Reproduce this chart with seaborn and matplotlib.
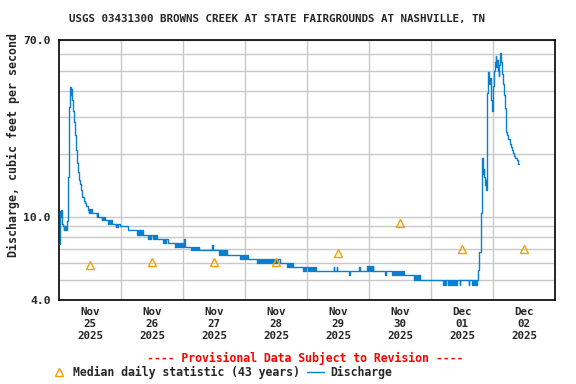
import pandas as pd
import seaborn as sns
import matplotlib.pyplot as plt
from matplotlib.lines import Line2D
from matplotlib.ticker import FixedLocator, NullFormatter

title = "USGS 03431300 BROWNS CREEK AT STATE FAIRGROUNDS AT NASHVILLE, TN"
day_labels = ["Nov\n25\n2025", "Nov\n26\n2025", "Nov\n27\n2025", "Nov\n28\n2025",
              "Nov\n29\n2025", "Nov\n30\n2025", "Dec\n01\n2025", "Dec\n02\n2025"]

# median daily statistic, one per day (hours since Nov 25 00:00)
median_hours = [12, 36, 60, 84, 108, 132, 156, 180]
median_cfs = [5.9, 6.1, 6.1, 6.1, 6.7, 9.3, 7.0, 7.0]

# discharge (hours since Nov 25 00:00, cfs)
flow_hours = [
    # Nov 25
    0.0, 0.2, 0.4, 0.6, 0.8, 1.0, 1.35, 1.55, 1.9, 2.1, 2.3, 2.5, 2.7, 3.1,
    3.4, 3.6, 3.9, 4.25, 4.45, 4.6, 4.75, 4.9, 5.15, 5.5, 5.9, 6.3, 6.7, 7.1,
    7.5, 7.85, 8.25, 8.5, 8.9, 9.5, 10.1, 10.45, 11.2, 11.5, 11.8, 12.1, 12.4,
    12.6, 14.6, 14.9, 15.2, 16.5, 16.8, 17.1, 17.4, 17.8, 19.1, 19.4, 19.7,
    20.0, 20.6, 21.9, 22.2, 22.5, 22.8, 23.6,
    # Nov 26
    26.8, 30.0, 30.4, 30.8, 31.2, 31.6, 32.0, 32.4, 32.9, 34.6, 35.0, 35.4,
    35.8, 36.2, 36.6, 37.0, 37.4, 37.8, 38.2, 40.4, 40.8, 41.2, 41.6, 42.0,
    42.6, 44.9, 45.3, 45.7, 46.1, 46.5, 46.9, 47.3, 47.7, 48.1, 48.5, 48.7,
    49.0,
    # Nov 27
    51.0, 51.3, 51.7, 52.1, 52.5, 52.9, 53.3, 53.7, 54.1, 54.6, 59.3, 59.5,
    62.0, 62.4, 62.8, 63.2, 63.6, 64.0, 64.4, 64.8, 65.2, 65.5, 70.0, 70.4,
    70.8, 71.2, 71.6, 72.0, 72.4, 72.8, 73.3,
    # Nov 28
    76.5, 76.9, 77.3, 77.7, 78.1, 78.5, 78.9, 79.3, 79.7, 80.1, 80.5, 80.9,
    81.3, 81.7, 82.1, 82.5, 82.9, 83.3, 83.7, 84.1, 84.5, 84.9, 85.5, 88.1,
    88.5, 88.9, 89.3, 89.7, 90.0, 90.4, 94.6, 95.0, 95.4, 95.8, 96.2, 96.6,
    97.0, 97.4, 97.8, 98.2, 98.6, 99.0, 99.5,
    # Nov 29
    106.4, 106.6, 107.5, 107.7, 112.4, 112.6, 116.2, 116.4, 119.1, 119.5,
    119.9, 120.3, 120.7, 121.1, 121.4, 121.7,
    # Nov 30
    126.2, 126.4, 128.8, 129.2, 129.6, 130.0, 130.4, 130.8, 131.2, 131.6,
    132.0, 132.4, 132.8, 133.2, 133.7, 137.5, 137.9, 138.3, 138.7, 139.1,
    139.5, 139.9, 140.4, 148.8, 149.2, 149.6, 150.0, 150.4, 150.8, 151.2,
    151.6, 152.0, 152.4, 152.8, 153.2, 153.6, 153.9, 155.2, 155.4, 158.7,
    158.9, 159.7, 160.1, 160.5, 160.9, 161.3, 161.7,
    # Dec 01
    162.3, 162.7, 163.2, 163.6, 163.8, 164.1, 164.4, 164.6, 164.9, 165.1,
    165.4, 165.5, 165.8, 166.2, 166.4, 166.8, 167.2, 167.4, 167.7, 168.0,
    168.3, 168.7, 169.0, 169.2, 169.6, 170.0, 170.3, 170.5, 170.8, 171.1,
    171.3, 171.7, 172.1, 172.5, 172.9, 173.2, 173.6, 174.0, 174.4, 174.8,
    175.2, 175.6, 176.1, 176.6, 177.1, 177.8, 178.0,
]
flow_cfs = [
    # Nov 25
    7.4, 8.0, 10.6, 10.0, 10.8, 9.6, 9.2, 9.0, 8.6, 9.0, 8.6, 9.0, 8.6, 9.5,
    13.4, 15.5, 33.6, 36.8, 41.5, 38.0, 41.0, 37.0, 36.0, 32.0, 28.4, 24.5,
    20.8, 18.0, 16.4, 15.0, 14.3, 13.4, 12.4, 11.9, 11.6, 11.2, 10.8, 10.4,
    10.9, 10.4, 10.9, 10.4, 10.0, 10.4, 10.0, 9.6, 10.0, 9.6, 10.0, 9.6, 9.2,
    9.6, 9.2, 9.6, 9.2, 8.9, 9.2, 8.9, 9.2, 9.0,
    # Nov 26
    8.6, 8.2, 8.6, 8.2, 8.6, 8.2, 8.6, 8.2, 8.2, 7.8, 8.2, 7.8, 8.2, 7.8, 8.2,
    7.8, 8.2, 7.8, 7.8, 7.5, 7.8, 7.5, 7.8, 7.5, 7.5, 7.2, 7.5, 7.2, 7.5, 7.2,
    7.5, 7.2, 7.5, 7.2, 7.8, 7.2, 7.2,
    # Nov 27
    6.9, 7.2, 6.9, 7.2, 6.9, 7.2, 6.9, 7.2, 6.9, 6.9, 7.3, 6.9, 6.55, 6.9,
    6.55, 6.9, 6.55, 6.9, 6.55, 6.9, 6.55, 6.6, 6.3, 6.6, 6.3, 6.6, 6.3, 6.6,
    6.3, 6.6, 6.3,
    # Nov 28
    6.0, 6.3, 6.0, 6.3, 6.0, 6.3, 6.0, 6.3, 6.0, 6.3, 6.0, 6.3, 6.0, 6.3, 6.0,
    6.3, 6.0, 6.3, 6.0, 6.3, 6.0, 6.3, 6.0, 5.75, 6.0, 5.75, 6.0, 5.75, 6.0,
    5.75, 5.5, 5.75, 5.5, 5.75, 5.5, 5.75, 5.5, 5.75, 5.5, 5.75, 5.5, 5.75,
    5.5,
    # Nov 29
    5.75, 5.5, 5.75, 5.5, 5.26, 5.5, 5.75, 5.5, 5.8, 5.5, 5.8, 5.5, 5.8, 5.5,
    5.8, 5.5,
    # Nov 30
    5.26, 5.5, 5.26, 5.5, 5.26, 5.5, 5.26, 5.5, 5.26, 5.5, 5.26, 5.5, 5.26,
    5.5, 5.26, 5.0, 5.26, 5.0, 5.26, 5.0, 5.26, 5.0, 5.0, 4.7, 5.0, 4.7, 5.0,
    4.7, 5.0, 4.7, 5.0, 4.7, 5.0, 4.7, 5.0, 4.7, 5.0, 4.7, 5.0, 4.7, 5.0, 4.7,
    5.0, 4.7, 5.0, 4.7, 5.0,
    # Dec 01
    5.56, 6.8, 10.4, 15.8, 19.0, 16.0, 17.0, 15.5, 14.2, 15.0, 13.4, 23.3,
    39.0, 49.0, 43.0, 46.0, 42.0, 36.0, 32.0, 42.0, 50.0, 55.0, 59.0, 52.0,
    56.0, 50.0, 47.0, 53.0, 60.5, 55.0, 48.0, 43.0, 38.0, 33.0, 29.0, 25.5,
    24.5, 23.5, 22.4, 21.5, 20.8, 20.1, 19.6, 19.2, 18.7, 17.9, 17.9,
]

blue = "#0a7fcf"
orange = "#f5a000"
grid_grey = "#c8c8c8"

sns.set_style("white")
plt.rcParams["font.family"] = ["DejaVu Sans Mono"]
plt.rcParams["font.weight"] = "bold"

fig = plt.figure(figsize=(5.76, 3.84), dpi=100)
ax = fig.add_axes([59 / 576, 1 - 300 / 384, 496 / 576, 260 / 384])

flow = pd.DataFrame({"hours": flow_hours, "cfs": flow_cfs})
med = pd.DataFrame({"hours": median_hours, "cfs": median_cfs})

sns.lineplot(data=flow, x="hours", y="cfs", ax=ax, estimator=None, sort=False,
             drawstyle="steps-post", color=blue, linewidth=1.0, zorder=3)
sns.lineplot(data=med, x="hours", y="cfs", ax=ax, estimator=None, sort=False,
             marker="^", linestyle="", markersize=6.3, markerfacecolor="none",
             markeredgecolor=orange, markeredgewidth=1.0, zorder=4)

ax.set_yscale("log")
ax.set_ylim(4, 70)
ax.set_xlim(0, 192)
ax.yaxis.set_major_locator(FixedLocator([4, 10, 70]))
ax.yaxis.set_minor_locator(FixedLocator([5, 6, 7, 8, 9, 20, 30, 40, 50, 60]))
ax.yaxis.set_minor_formatter(NullFormatter())
ax.set_yticklabels(["4.0", "10.0", "70.0"])
ax.set_xticks([12 + 24 * i for i in range(8)])
ax.set_xticklabels(day_labels, linespacing=1.25)
ax.set_xticks([24 * i for i in range(1, 8)], minor=True)

ax.grid(False)
ax.grid(True, which="both", axis="y", color=grid_grey, linewidth=1.0, zorder=0)
ax.grid(True, which="minor", axis="x", color=grid_grey, linewidth=1.0, zorder=0)
ax.set_axisbelow(True)

ax.tick_params(axis="both", which="both", length=0)
ax.tick_params(axis="y", labelsize=8.2, pad=6)
ax.tick_params(axis="x", labelsize=7.8, pad=5)
for s in ax.spines.values():
    s.set_color("black")
    s.set_linewidth(1.2)

ax.set_xlabel("")
ax.set_ylabel("")
fig.text(13 / 576, 1 - 145 / 384, "Discharge, cubic feet per second", rotation=90,
         ha="center", va="center", fontsize=8.4)
fig.text(277 / 576, 1 - 19 / 384, title, ha="center", va="center", fontsize=7.8)
fig.text(305 / 576, 1 - 358 / 384, "---- Provisional Data Subject to Revision ----",
         ha="center", va="center", fontsize=8.3, color="red")

handles = [
    Line2D([], [], marker="^", linestyle="", markersize=6.3, markerfacecolor="none",
           markeredgecolor=orange, markeredgewidth=1.0),
    Line2D([], [], color=blue, linewidth=1.0),
]
fig.legend(handles, ["Median daily statistic (43 years)", "Discharge"],
           loc="center left", bbox_to_anchor=(50 / 576, 1 - 372 / 384), ncol=2,
           frameon=False, fontsize=8.3, handlelength=1.5, handletextpad=0.5,
           columnspacing=0.6, borderpad=0, borderaxespad=0)

fig.savefig("out.png", dpi=100)
